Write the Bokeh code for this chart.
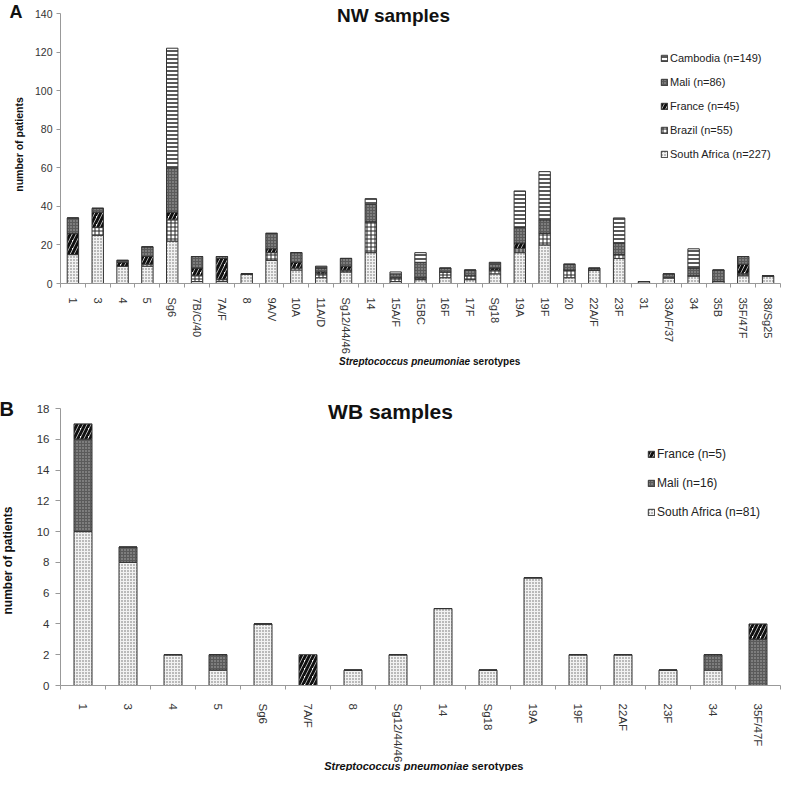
import math
from bokeh.plotting import figure
from bokeh.models import (Range1d, LinearAxis, FixedTicker,
                          Legend, LegendItem, ColumnDataSource)
from bokeh.core.properties import value
from bokeh.transform import stack
from bokeh.layouts import column
from bokeh.embed import file_html
from bokeh.resources import INLINE

# ---------------- data: panel A (NW samples) ----------------
nw_serotypes = ["1", "3", "4", "5", "Sg6", "7B/C/40", "7A/F", "8", "9A/V", "10A", "11A/D",
                "Sg12/44/46", "14", "15A/F", "15BC", "16F", "17F", "Sg18", "19A", "19F", "20",
                "22A/F", "23F", "31", "33A/F/37", "34", "35B", "35F/47F", "38/Sg25"]
nw_south_africa = [15, 25, 9, 9, 22, 1, 1, 5, 12, 7, 3, 6, 16, 1, 2, 3, 2, 5, 16, 20, 3, 7, 13, 1, 3, 4, 1, 4, 4]
nw_brazil = [0, 4, 0, 1, 11, 3, 1, 0, 4, 1, 2, 1, 16, 2, 1, 3, 2, 2, 2, 6, 4, 0, 2, 0, 0, 0, 0, 1, 0]
nw_france = [11, 8, 2, 4, 4, 4, 11, 0, 2, 3, 1, 2, 0, 0, 0, 0, 0, 1, 3, 0, 0, 0, 0, 0, 0, 0, 0, 5, 0]
nw_mali = [8, 2, 1, 5, 23, 6, 1, 0, 8, 5, 2, 4, 9, 2, 8, 2, 3, 2, 8, 7, 3, 1, 6, 0, 2, 4, 6, 4, 0]
nw_cambodia = [0, 0, 0, 0, 62, 0, 0, 0, 0, 0, 1, 0, 3, 1, 5, 0, 0, 1, 19, 25, 0, 0, 13, 0, 0, 10, 0, 0, 0]
nw_series = ["South Africa (n=227)", "Brazil (n=55)", "France (n=45)", "Mali (n=86)", "Cambodia (n=149)"]
nw_yticks = [0, 20, 40, 60, 80, 100, 120, 140]

# ---------------- data: panel B (WB samples) ----------------
wb_serotypes = ["1", "3", "4", "5", "Sg6", "7A/F", "8", "Sg12/44/46", "14", "Sg18", "19A",
                "19F", "22AF", "23F", "34", "35F/47F"]
wb_south_africa = [10, 8, 2, 1, 4, 0, 1, 2, 5, 1, 7, 2, 2, 1, 1, 0]
wb_mali = [6, 1, 0, 1, 0, 0, 0, 0, 0, 0, 0, 0, 0, 0, 1, 3]
wb_france = [1, 0, 0, 0, 0, 2, 0, 0, 0, 0, 0, 0, 0, 0, 0, 1]
wb_series = ["South Africa (n=81)", "Mali (n=16)", "France (n=5)"]
wb_yticks = [0, 2, 4, 6, 8, 10, 12, 14, 16, 18]

FONT = "Liberation Sans"

STYLE = {
    "South Africa": dict(fill_color="#f2f2f2", hatch_pattern="dot", hatch_color="#666666", hatch_scale=3, hatch_weight=1),
    "Brazil": dict(fill_color="#ffffff", hatch_pattern="cross", hatch_color="#222222", hatch_scale=4, hatch_weight=1),
    "France": dict(fill_color="#ffffff", hatch_pattern="right_diagonal_line", hatch_color="#111111", hatch_scale=8, hatch_weight=3),
    "Mali": dict(fill_color="#5a5a5a", hatch_pattern="dot", hatch_color="#b0b0b0", hatch_scale=3, hatch_weight=1),
    "Cambodia": dict(fill_color="#ffffff", hatch_pattern="horizontal_line", hatch_color="#222222", hatch_scale=4, hatch_weight=1.5),
}


def style_of(name):
    for k, v in STYLE.items():
        if name.startswith(k):
            return v
    return {}


def make_panel(cats, series_names, series_vals, ymax, yticks, width, height, borders,
               bar_width, letter, title, fonts, legend_geom, text_pos):
    bl, br, bt, bb = borders
    n = len(cats)
    fw = width - bl - br
    fh = height - bt - bb
    sx = n / fw          # data units per pixel (x)
    sy = ymax / fh       # data units per pixel (y)

    p = figure(width=width, height=height, x_range=Range1d(0, n), y_range=Range1d(0, ymax),
               output_backend="svg", toolbar_location=None, x_axis_location=None,
               y_axis_location=None, min_border_left=bl, min_border_right=br,
               min_border_top=bt, min_border_bottom=bb)
    p.outline_line_color = None
    p.xgrid.visible = False
    p.ygrid.visible = False
    p.background_fill_color = "white"

    # category i sits at the centre of slot i
    data = {"pos": [i + 0.5 for i in range(n)], "cat": cats}
    keys = []
    for i, (nm, vals) in enumerate(zip(series_names, series_vals)):
        k = "s%d" % i
        data[k] = vals
        keys.append(k)
    src = ColumnDataSource(data)

    renderers = []
    for i, k in enumerate(keys):
        below = keys[:i]
        st = style_of(series_names[i])
        r = p.vbar(x="pos", bottom=stack(*below) if below else 0, top=stack(*keys[:i + 1]),
                   width=bar_width, source=src, line_color="#333333", line_width=1, **st)
        renderers.append(r)

    # x axis: labels at category centres, tick marks between categories
    xa = LinearAxis(ticker=FixedTicker(ticks=[i + 0.5 for i in range(n)], minor_ticks=list(range(n + 1))),
                    major_label_overrides={i + 0.5: c for i, c in enumerate(cats)})
    xa.major_label_orientation = "vertical"
    xa.major_tick_out = 0
    xa.major_tick_in = 0
    xa.minor_tick_out = 4
    xa.minor_tick_in = 0
    xa.axis_line_color = "#999999"
    xa.minor_tick_line_color = "#999999"
    xa.major_label_text_font = FONT
    xa.major_label_text_font_size = fonts["xtick"]
    xa.major_label_text_color = "#333333"
    xa.major_label_standoff = fonts["xstand"]
    p.add_layout(xa, "below")

    ya = LinearAxis(ticker=FixedTicker(ticks=yticks, minor_ticks=[]))
    ya.major_tick_out = fonts["ytick"]
    ya.major_tick_in = 0
    ya.axis_line_color = "#999999"
    ya.major_tick_line_color = "#999999"
    ya.major_label_text_font = FONT
    ya.major_label_text_font_size = fonts["tick"]
    ya.major_label_text_color = "#333333"
    ya.major_label_standoff = fonts["ystand"]
    p.add_layout(ya, "left")

    # legend (reverse order: top of stack first)
    lx, ly, lfs, lspace = legend_geom
    items = [LegendItem(label=series_names[i], renderers=[renderers[i]]) for i in reversed(range(len(keys)))]
    lg = Legend(items=items, location=(lx, ly), border_line_alpha=0, background_fill_alpha=0,
                padding=0, margin=0, glyph_width=8, glyph_height=8, label_height=12,
                label_standoff=2, spacing=lspace, label_text_font=FONT,
                label_text_font_size=lfs, label_text_color="#222222")
    p.add_layout(lg)

    tp = text_pos

    def lab(px, py, txt, size, style, align="left", baseline="alphabetic", angle=0.0):
        p.text(x=[px * sx], y=[py * sy], text=[txt], text_font=value(FONT),
               text_font_size=value(size), text_font_style=style, text_align=align,
               text_baseline=baseline, angle=angle, text_color="#111111", level="overlay")

    lab(*tp["letter"], letter, fonts["letter"], "bold")
    lab(*tp["title"], title, fonts["title"], "bold", align="center")
    lab(*tp["ylab"], "number of patients", fonts["ylab"], "bold", align="center",
        baseline="middle", angle=math.pi / 2)
    lab(*tp["xlab"], "Streptococcus pneumoniae", fonts["xlab"], "bold italic", align="right")
    lab(tp["xlab"][0] + 3, tp["xlab"][1], "serotypes", fonts["xlab"], "bold")
    return p


p1 = make_panel(nw_serotypes, nw_series,
                [nw_south_africa, nw_brazil, nw_france, nw_mali, nw_cambodia],
                140, nw_yticks, 784, 380, (51, 0, 13, 97), 0.46, "A", "NW samples",
                dict(tick="10.5px", xtick="11px", xstand=10, ytick=4, ystand=4, letter="18px",
                     title="19px", ylab="10.5px", xlab="10px"),
                (600, 123, "11px", 12),
                dict(letter=(-52, 272), title=(339, 268), ylab=(-42, 139), xlab=(417, -78)))

p2 = make_panel(wb_serotypes, wb_series, [wb_south_africa, wb_mali, wb_france],
                18, wb_yticks, 784, 391, (60, 4, 28, 86), 0.4, "B", "WB samples",
                dict(tick="11.5px", xtick="11.5px", xstand=14, ytick=5, ystand=6, letter="20px",
                     title="21px", ylab="12px", xlab="11px"),
                (587, 166, "12px", 15),
                dict(letter=(-61, 277), title=(330, 274), ylab=(-53, 125), xlab=(408, -80)))

layout = column(p1, p2, spacing=0)
open("out.html", "w").write(file_html(layout, INLINE))
